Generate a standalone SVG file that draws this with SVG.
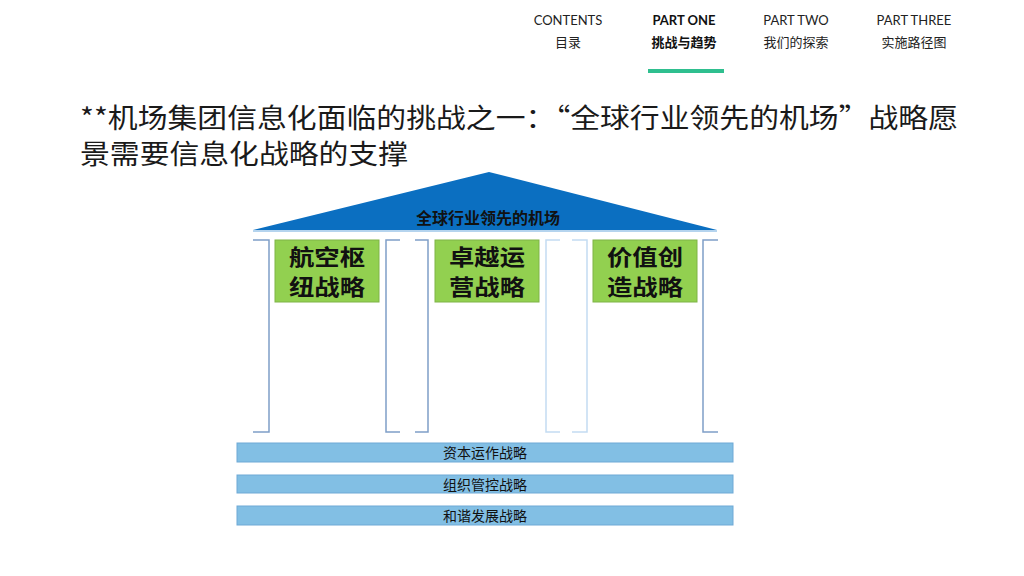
<svg xmlns="http://www.w3.org/2000/svg" width="1024" height="576" viewBox="0 0 1024 576">
<style>
.nav{font-family:"Lato","Liberation Sans","Noto Sans CJK SC",sans-serif;font-size:13px;fill:#222;text-anchor:middle}
.navb{font-weight:bold;fill:#111}
.title{font-family:"Noto Sans CJK SC",sans-serif;font-size:27px;fill:#1a1a1a}
.br{fill:none;stroke:#7f9fc8;stroke-width:1.5}
.brl{fill:none;stroke:#c3dcf2;stroke-width:1.5}
.green{fill:#92d050;stroke:#7fb446;stroke-width:1}
.gt{font-family:"Noto Sans CJK SC",sans-serif;font-weight:bold;font-size:22px;fill:#111;text-anchor:middle}
.bar{fill:#82bfe4;stroke:#6ea9d6;stroke-width:1}
.bt{font-family:"Noto Sans CJK SC",sans-serif;font-size:14px;fill:#111;text-anchor:middle}
</style>
<rect width="1024" height="576" fill="#ffffff"/>
<g id="nav">
<text class="nav" x="568" y="25">CONTENTS</text>
<text class="nav" x="568" y="47">目录</text>
<text class="nav navb" x="684" y="25">PART ONE</text>
<text class="nav navb" x="684" y="47">挑战与趋势</text>
<text class="nav" x="796" y="25">PART TWO</text>
<text class="nav" x="796" y="47">我们的探索</text>
<text class="nav" x="914" y="25">PART THREE</text>
<text class="nav" x="914" y="47">实施路径图</text>
<rect x="648" y="69" width="76" height="4" fill="#2fbf8f"/>
</g>
<g id="title">
<text class="title" x="80" y="128" textLength="878" lengthAdjust="spacingAndGlyphs">**机场集团信息化面临的挑战之一：“全球行业领先的机场”战略愿</text>
<text class="title" x="80" y="164" textLength="328" lengthAdjust="spacingAndGlyphs">景需要信息化战略的支撑</text>
</g>
<g id="roof">
<polygon points="489,172 717,230 253,230" fill="#0b6fc1"/>
<line x1="253" y1="231" x2="717" y2="231" stroke="#9cc6e8" stroke-width="1.5"/>
<text x="488" y="224" font-family="Noto Sans CJK SC, sans-serif" font-weight="bold" font-size="16" fill="#111" text-anchor="middle">全球行业领先的机场</text>
</g>
<g id="pillars">
<path class="br" d="M253,240 H269 V432 H253"/>
<path class="br" d="M400,240 H386 V432 H400"/>
<path class="br" d="M415,240 H428 V432 H415"/>
<path class="brl" d="M560,240 H546 V432 H560"/>
<path class="brl" d="M572,240 H587 V432 H572"/>
<path class="br" d="M718,240 H703 V432 H718"/>
</g>
<g id="pillar1">
<rect class="green" x="275" y="240" width="104" height="62"/>
<text class="gt" x="327" y="265" textLength="76" lengthAdjust="spacingAndGlyphs">航空枢</text>
<text class="gt" x="327" y="295" textLength="76" lengthAdjust="spacingAndGlyphs">纽战略</text>
</g>
<g id="pillar2">
<rect class="green" x="435" y="240" width="104" height="62"/>
<text class="gt" x="487" y="265" textLength="76" lengthAdjust="spacingAndGlyphs">卓越运</text>
<text class="gt" x="487" y="295" textLength="76" lengthAdjust="spacingAndGlyphs">营战略</text>
</g>
<g id="pillar3">
<rect class="green" x="593" y="240" width="104" height="62"/>
<text class="gt" x="645" y="265" textLength="76" lengthAdjust="spacingAndGlyphs">价值创</text>
<text class="gt" x="645" y="295" textLength="76" lengthAdjust="spacingAndGlyphs">造战略</text>
</g>
<g id="base1">
<rect class="bar" x="237" y="443" width="496" height="19"/>
<text class="bt" x="485" y="458">资本运作战略</text>
</g>
<g id="base2">
<rect class="bar" x="237" y="475" width="496" height="18"/>
<text class="bt" x="485" y="490">组织管控战略</text>
</g>
<g id="base3">
<rect class="bar" x="237" y="506" width="496" height="19"/>
<text class="bt" x="485" y="521">和谐发展战略</text>
</g>
</svg>
